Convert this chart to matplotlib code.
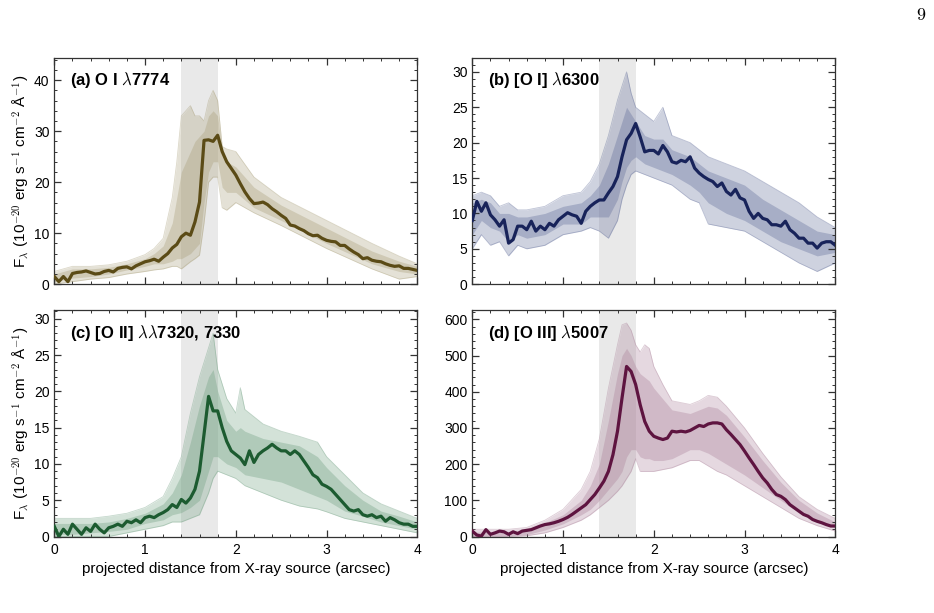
import matplotlib
matplotlib.use("Agg")
import matplotlib.pyplot as plt
import numpy as np
from matplotlib.ticker import MultipleLocator

plt.rcParams["font.family"] = ["Liberation Sans", "DejaVu Sans"]
plt.rcParams["mathtext.fontset"] = "cm"

# projected distance grid of the median profiles (arcsec)
dist = np.linspace(0, 4, 81)

# (a) O I 7774
med_a = [1.5, 0.5, 1.5, 0.5, 2.1, 2.3, 2.4, 2.6, 2.3, 2.0,
         2.1, 2.5, 2.7, 2.4, 3.1, 3.3, 3.4, 3.0, 3.6, 4.0,
         4.4, 4.6, 4.9, 4.5, 5.3, 6.0, 7.1, 7.8, 9.3, 10.0,
         9.6, 12.2, 16.1, 28.2, 28.3, 28.0, 29.2, 26.0, 24.0, 22.7,
         21.4, 19.7, 18.1, 16.8, 15.8, 15.9, 16.1, 15.6, 14.8, 14.2,
         13.5, 12.9, 11.6, 11.4, 10.9, 10.5, 9.9, 9.5, 9.6, 9.0,
         8.6, 8.4, 8.3, 7.6, 7.6, 6.9, 6.3, 5.8, 5.0, 5.2,
         4.7, 4.5, 4.4, 4.0, 3.7, 3.5, 3.6, 3.1, 3.1, 2.9, 2.7]
env_x_a = [0, 0.2, 0.4, 0.6, 0.8, 1.0, 1.1, 1.2, 1.3, 1.35, 1.4, 1.5, 1.55,
           1.6, 1.65, 1.7, 1.75, 1.8, 1.85, 1.9, 2.0, 2.2, 2.5, 3.0, 3.5, 3.8, 4.0]
env_hi_a = [2.5, 3.5, 3.5, 3.8, 4.5, 5.8, 7, 9, 17, 24, 33, 35, 33,
            33, 32, 36, 38, 36, 27, 26.5, 26, 21, 17, 12.5, 8, 5.5, 4]
env_lo_a = [0, 0.5, 1, 1.3, 2, 2.5, 2.8, 3, 3.5, 3.5, 3, 4.4, 5,
            5.7, 12, 20, 21, 21, 15, 14.5, 16, 14, 11.5, 7, 3, 1, 1.5]
core_hi_a = [2, 3, 3, 3.3, 4, 5, 6, 7.5, 12, 17, 22, 26, 28,
             29, 30, 33, 34, 33, 26, 24, 23, 19, 15.5, 11, 6.5, 4.5, 3.5]
core_lo_a = [0.5, 1.2, 1.5, 2, 2.8, 3.5, 4, 4, 4.5, 5, 5, 6, 7,
             8, 16, 22, 24, 24, 19, 18, 18, 15, 12.5, 8, 4, 2.5, 2]

# (b) [O I] 6300
med_b = [9.0, 11.7, 10.3, 11.5, 9.8, 9.1, 8.2, 9.1, 5.8, 6.3,
         8.2, 8.2, 7.7, 8.9, 7.5, 8.2, 7.7, 8.6, 8.2, 9.1,
         9.6, 10.1, 9.8, 9.6, 8.6, 10.3, 11.0, 11.5, 11.9, 11.9,
         12.9, 13.8, 15.2, 18.0, 20.4, 21.3, 22.7, 20.8, 18.7, 18.9,
         18.9, 18.4, 19.6, 18.7, 17.3, 17.1, 17.5, 17.3, 18.0, 16.4,
         15.7, 15.2, 14.8, 14.5, 13.8, 14.3, 13.1, 12.6, 13.4, 12.2,
         11.9, 10.3, 9.3, 10.0, 9.3, 9.1, 8.4, 8.4, 8.2, 8.9,
         7.7, 7.2, 6.5, 6.5, 5.8, 5.8, 5.1, 5.8, 6.0, 6.0, 5.5]
env_x_b = [0, 0.1, 0.2, 0.3, 0.4, 0.5, 0.6, 0.8, 1.0, 1.2, 1.3, 1.4, 1.5, 1.6,
           1.65, 1.7, 1.75, 1.8, 1.9, 2.0, 2.1, 2.2, 2.4, 2.5, 2.6, 2.8, 3.0,
           3.2, 3.4, 3.6, 3.8, 4.0]
env_hi_b = [12.5, 13, 12.5, 11, 11.5, 10.5, 10.5, 11, 12.5, 13, 14.5, 17, 21, 26,
            28, 30, 27, 25, 24, 23, 25, 21, 20, 19, 18, 17, 16,
            14.5, 13, 11.5, 9.5, 8]
env_lo_b = [5, 7, 5.5, 6, 4, 5.5, 5, 5.5, 7, 7.5, 8, 7.5, 6.5, 9,
            12, 14, 15.5, 16, 15.5, 15, 14.5, 14, 12, 11.5, 8.5, 8, 7.5,
            6, 4.5, 3, 1.8, 3]
core_hi_b = [11.5, 12, 11.5, 10, 10, 9.5, 9.5, 10, 11, 11.5, 12.5, 14, 17, 21,
             23, 25, 24, 23, 21, 20.5, 20.5, 19, 18, 17, 16, 15, 14,
             12, 10.5, 9, 7.5, 7]
core_lo_b = [7, 9, 8, 7.5, 6, 7, 6.5, 7, 8.5, 8.5, 9.5, 9.5, 9.5, 12,
             14.5, 16.5, 17.5, 18, 17, 16.5, 16, 15.5, 14, 13, 11.5, 10, 9,
             7.5, 6, 5, 4, 4.5]

# (c) [O II] 7320, 7330
med_c = [1.4, 0.0, 1.0, 0.3, 1.7, 1.0, 0.3, 1.2, 0.7, 1.7,
         1.0, 0.5, 1.2, 1.4, 1.7, 1.4, 2.1, 1.9, 2.3, 1.9,
         2.6, 2.8, 2.6, 3.0, 3.3, 3.7, 4.4, 4.0, 5.1, 4.6,
         5.3, 6.5, 9.0, 14.1, 19.3, 17.3, 17.3, 15.0, 13.1, 11.8,
         11.3, 10.8, 9.9, 11.8, 10.2, 11.3, 11.8, 12.2, 12.7, 12.2,
         11.8, 11.8, 11.3, 11.8, 11.3, 10.4, 9.5, 8.5, 8.1, 7.2,
         6.9, 6.5, 5.8, 5.1, 4.4, 3.7, 3.5, 3.7, 3.0, 2.8,
         3.0, 2.6, 2.8, 2.1, 2.6, 2.3, 1.9, 1.7, 1.7, 1.4, 1.4]
env_x_c = [0, 0.2, 0.4, 0.6, 0.8, 1.0, 1.2, 1.3, 1.4, 1.5, 1.6, 1.7, 1.75, 1.8,
           1.9, 2.0, 2.05, 2.1, 2.3, 2.5, 2.7, 2.9, 3.0, 3.2, 3.4, 3.6, 3.8, 4.0]
env_hi_c = [2.5, 2.5, 2.5, 2.8, 3.2, 4, 5.5, 8, 11, 17, 22, 26, 28, 23,
            19, 17, 20.5, 17.5, 15.5, 14.5, 13.8, 13, 11, 8.5, 6, 4.5, 3.5, 2.5]
env_lo_c = [0, 0, 0, 0, 0.5, 1, 1.5, 2, 2, 2.5, 3, 6, 8, 9,
            8.5, 8, 7.5, 7, 6, 5, 4.2, 3.8, 3.4, 2.5, 2, 1.5, 1, 0.5]
core_hi_c = [1.8, 1.8, 1.8, 2, 2.5, 3.2, 4.5, 6, 8.5, 13, 18, 22, 23, 20,
             16, 14.5, 15, 14.5, 13.5, 13, 12.5, 11, 9.5, 7, 5, 3.5, 2.8, 2]
core_lo_c = [0.3, 0.3, 0.5, 0.7, 1, 1.8, 2.3, 3, 3.3, 4, 5, 9, 11, 11,
             10, 9.5, 9, 8.5, 8, 7.5, 6.5, 5.5, 5, 3.5, 2.8, 2, 1.5, 1]

# (d) [O III] 5007
med_d = [15, 4, 1, 19, 6, 10, 15, 13, 6, 13,
         8, 15, 17, 19, 24, 29, 33, 35, 38, 42,
         47, 53, 61, 70, 79, 88, 102, 116, 134, 153,
         180, 226, 291, 383, 470, 456, 420, 364, 318, 291,
         277, 272, 268, 272, 291, 289, 291, 289, 293, 300,
         307, 304, 311, 314, 314, 311, 295, 282, 268, 254,
         236, 217, 199, 180, 162, 148, 130, 116, 111, 102,
         88, 79, 70, 61, 56, 47, 42, 38, 33, 29, 29]
env_x_d = [0, 0.4, 0.6, 0.8, 1.0, 1.2, 1.3, 1.4, 1.5, 1.6, 1.65, 1.7, 1.75, 1.8,
           1.85, 1.9, 1.95, 2.0, 2.1, 2.2, 2.4, 2.5, 2.6, 2.7, 2.8, 3.0, 3.2,
           3.4, 3.6, 3.8, 4.0]
env_hi_d = [20, 20, 25, 45, 75, 130, 180, 270, 410, 530, 585, 590, 570, 530,
            510, 530, 520, 470, 420, 375, 365, 375, 390, 385, 360, 300, 230,
            165, 110, 75, 50]
env_lo_d = [0, 0, 2, 10, 25, 45, 60, 80, 100, 125, 140, 160, 180, 215,
            180, 180, 180, 180, 185, 190, 210, 210, 195, 180, 170, 140, 110,
            80, 50, 30, 15]
core_hi_d = [12, 12, 20, 38, 60, 100, 140, 200, 320, 450, 500, 520, 500, 470,
             450, 440, 430, 410, 380, 350, 340, 350, 360, 355, 335, 275, 210,
             150, 100, 65, 40]
core_lo_d = [2, 2, 5, 18, 35, 60, 75, 100, 130, 160, 180, 220, 240, 240,
             220, 215, 215, 210, 210, 215, 240, 240, 230, 215, 200, 170, 135,
             100, 65, 40, 25]

titles = [r"(a) O I $\lambda$7774", r"(b) [O I] $\lambda$6300",
          r"(c) [O II] $\lambda\lambda$7320, 7330", r"(d) [O III] $\lambda$5007"]
meds = [med_a, med_b, med_c, med_d]
envs = [(env_x_a, env_lo_a, env_hi_a, core_lo_a, core_hi_a),
        (env_x_b, env_lo_b, env_hi_b, core_lo_b, core_hi_b),
        (env_x_c, env_lo_c, env_hi_c, core_lo_c, core_hi_c),
        (env_x_d, env_lo_d, env_hi_d, core_lo_d, core_hi_d)]
line_colors = ["#5b4b16", "#18235a", "#1c5b30", "#5e1440"]
band_colors = ["#a89e78", "#5f6b98", "#6f9f80", "#aa8199"]
ymax = [44.4, 32, 31.2, 626]
ymajor = [10, 5, 5, 100]
yminor = [2, 1, 1, 20]
band_region = (1.4, 1.8)

fig = plt.figure(figsize=(9.34, 6.13), dpi=100)
W, H = 934, 613
boxes = [(54.3, 57.7), (472.3, 57.7), (54.3, 310), (472.3, 310)]
aw, ah = 363, 226.5

ylab = (r"F$_\lambda$ (10$^{\mathsf{-20}}$ erg s$^{\mathsf{-1}}$ "
        r"cm$^{\mathsf{-2}}$ Å$^{\mathsf{-1}}$)")

for i in range(4):
    x0, y0 = boxes[i]
    ax = fig.add_axes([x0 / W, 1 - (y0 + ah) / H, aw / W, ah / H])
    ax.axvspan(*band_region, color="#e9e9e9", lw=0, zorder=0)
    ex, elo, ehi, clo, chi = envs[i]
    c = band_colors[i]
    ax.fill_between(ex, elo, ehi, color=c, alpha=0.3, lw=0, zorder=1)
    ax.fill_between(ex, clo, chi, color=c, alpha=0.35, lw=0, zorder=1)
    for edge in (ehi, elo):
        ax.plot(ex, edge, color=c, lw=0.6, alpha=0.4, zorder=2)
    ax.plot(dist, meds[i], color=line_colors[i], lw=2.3, zorder=3)

    ax.set_xlim(0, 4)
    ax.set_ylim(0, ymax[i])
    ax.xaxis.set_major_locator(MultipleLocator(1))
    ax.xaxis.set_minor_locator(MultipleLocator(0.2))
    ax.yaxis.set_major_locator(MultipleLocator(ymajor[i]))
    ax.yaxis.set_minor_locator(MultipleLocator(yminor[i]))
    ax.tick_params(which="both", direction="in", top=True, right=True,
                   labelsize=10, color="#333333")
    ax.tick_params(which="major", length=5, width=0.9)
    ax.tick_params(which="minor", length=2.5, width=0.7)
    ax.tick_params(axis="x", which="major", pad=5)
    for sp in ax.spines.values():
        sp.set_linewidth(0.9)
        sp.set_color("#333333")

    ax.text(0.043, 0.9, titles[i], transform=ax.transAxes, fontsize=12,
            fontweight="bold", va="center", ha="left", zorder=5)

    if i < 2:
        ax.tick_params(labelbottom=False)
    else:
        ax.set_xlabel("projected distance from X-ray source (arcsec)",
                      fontsize=11, labelpad=3)
    if i % 2 == 0:
        ax.set_ylabel(ylab, fontsize=11, labelpad=2)

fig.text(921 / W, 1 - 15 / H, r"$\mathrm{9}$", fontsize=13, ha="center", va="center")

fig.savefig("out.png", dpi=100)
